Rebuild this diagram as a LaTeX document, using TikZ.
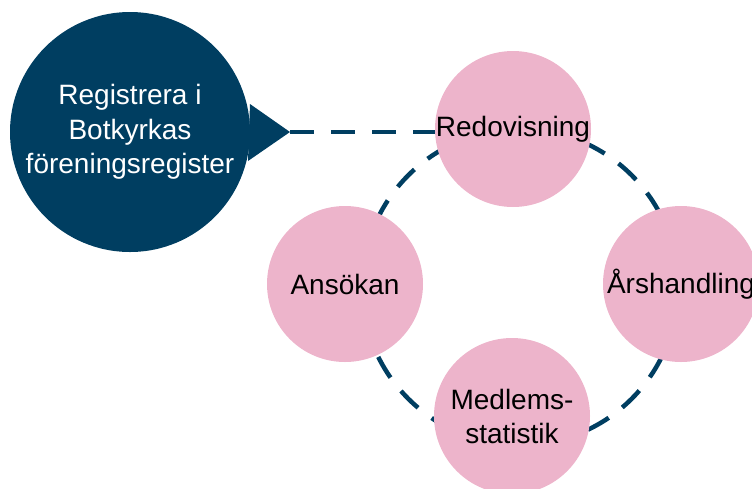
\documentclass[tikz,border=0pt]{standalone}
\usepackage{fontspec}
\setmainfont{Liberation Sans}
\definecolor{navy}{RGB}{0,62,97}
\definecolor{rosa}{RGB}{237,180,203}
\begin{document}
\begin{tikzpicture}[x=1pt,y=-1pt,
  stage/.style={circle, fill=rosa, minimum size=156pt, inner sep=0pt, align=center,
    font=\fontsize{28}{34}\selectfont, text=black},
  dashline/.style={draw=navy, line width=4.5pt, dash pattern=on 24pt off 17pt},
]
\useasboundingbox (0,0) rectangle (752,488);
% dashed ring behind the stages
\draw[dashline, dash phase=10pt] (520,287) circle[radius=158];
% speech bubble
\node[circle, fill=navy, minimum size=240pt, inner sep=0pt, text=white, align=center,
  font=\fontsize{28}{34.5}\selectfont] (bubble) at (130,132)
  {Registrera i\\Botkyrkas\\föreningsregister};
\coordinate (tip) at (290,132);
\fill[navy] (250,104) -- (tip) -- (248,161) -- cycle;
% stages
\node[stage] (redov) at (513,129) {Redovisning};
\node[stage] (ansok) at (345,284) {Ansökan};
\node[stage] (arsh) at (681,284) {Årshandling};
\node[stage] (medl) at (512,416) {Medlems-\\statistik};
% connector from bubble to Redovisning
\draw[dashline] (tip) -- (tip -| redov.west);
\end{tikzpicture}
\end{document}
